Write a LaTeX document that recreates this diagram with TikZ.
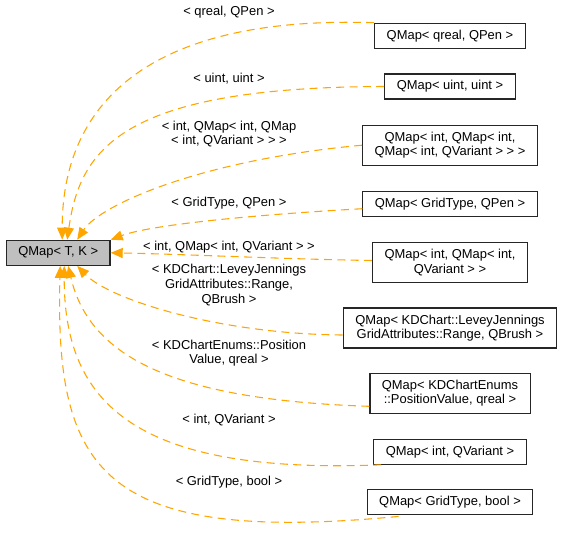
\documentclass[tikz,border=0pt]{standalone}
\usepackage{fontspec}
\setmainfont{Liberation Sans}
\usepackage{tikz}
\usetikzlibrary{arrows.meta,positioning,calc}
\definecolor{edgeorange}{HTML}{FFA500}
\definecolor{basegray}{HTML}{BFBFBF}

\begin{document}
\begin{tikzpicture}[x=0.75pt, y=-0.75pt, font=\fontsize{9.7pt}{11pt}\selectfont]

 \tikzset{
   box/.style={rectangle, draw=black!85, fill=white, line width=0.9pt, inner xsep=9pt, inner ysep=2pt, minimum height=18.75pt, align=center},
   tallbox/.style={box, minimum height=30pt},
   basebox/.style={box, fill=basegray},
   lbl/.style={inner sep=0pt, align=center},
   edge/.style={-{Triangle[length=9pt,width=7.5pt]}, draw=edgeorange, line width=0.8pt, dash pattern=on 6pt off 4pt}
 }

 \useasboundingbox (0,0) rectangle (563,537);

 % Horizontal positions
 \def\xposBase{58.2}
 \def\xposRight{450}
 \def\xposLabel{229}

 % Base class
 \node[basebox] (base) at (\xposBase, 252.8) {QMap< T, K >};

 % Instantiations
 \node[box] (qreal) at (\xposRight, 35.8) {QMap< qreal, QPen >};
 \node[box] (uint) at (\xposRight, 86.5) {QMap< uint, uint >};
 \node[tallbox] (qmapA) at (\xposRight, 145.2) {QMap< int, QMap< int,\\ QMap< int, QVariant > > >};
 \node[box] (gridpen) at (\xposRight, 203.7) {QMap< GridType, QPen >};
 \node[tallbox] (qmapB) at (\xposRight, 262.5) {QMap< int, QMap< int,\\QVariant > >};
 \node[tallbox] (levey) at (\xposRight, 328) {QMap< KDChart::LeveyJennings\\GridAttributes::Range, QBrush >};
 \node[tallbox] (enums) at (\xposRight, 393.3) {QMap< KDChartEnums\\::PositionValue, qreal >};
 \node[box] (intvar) at (\xposRight, 451.7) {QMap< int, QVariant >};
 \node[box] (gridbool) at (\xposRight, 502.3) {QMap< GridType, bool >};

 % Edge labels
 \node[lbl] (l_qreal) at (\xposLabel, 12) {< qreal, QPen >};
 \node[lbl] (l_uint) at (\xposLabel, 79) {< uint, uint >};
 \node[lbl] (l_qmapA) at (\xposLabel, 134) {< int, QMap< int, QMap\\< int, QVariant > > >};
 \node[lbl] (l_gridpen) at (\xposLabel, 203) {< GridType, QPen >};
 \node[lbl] (l_qmapB) at (\xposLabel, 247) {< int, QMap< int, QVariant > >};
 \node[lbl] (l_levey) at (\xposLabel, 285) {< KDChart::LeveyJennings\\GridAttributes::Range,\\QBrush >};
 \node[lbl] (l_enums) at (\xposLabel, 353) {< KDChartEnums::Position\\Value, qreal >};
 \node[lbl] (l_intvar) at (\xposLabel, 420) {< int, QVariant >};
 \node[lbl] (l_gridbool) at (\xposLabel, 482) {< GridType, bool >};

 % Edges
 \draw[edge] (qreal.north west) .. controls (140,15) and (62,110) .. ($(base.north)+(4,0)$);
 \draw[edge] (uint.west) .. controls (120,87) and (80,150) .. ($(base.north)+(9,0)$);
 \draw[edge] (qmapA.west) .. controls (200,160) and (100,205) .. ($(base.north)+(19,0)$);
 \draw[edge] ($(gridpen.west)+(0,5)$) .. controls (250,215) and (150,225) .. (base.north east);
 \draw[edge] ($(qmapB.west)+(0,-2)$) .. controls (280,259) and (180,254) .. (base.east);
 \draw[edge] ($(levey.west)+(0,7)$) .. controls (220,334) and (110,300) .. ($(base.south)+(19,0)$);
 \draw[edge] ($(enums.west)+(0,13)$) .. controls (180,400) and (90,360) .. ($(base.south)+(10,0)$);
 \draw[edge] ($(intvar.south west)+(8,0)$) .. controls (130,475) and (64,400) .. ($(base.south)+(6,0)$);
 \draw[edge] ($(gridbool.south west)+(32,1)$) .. controls (100,545) and (55,470) .. ($(base.south)+(2,0)$);

\end{tikzpicture}
\end{document}
